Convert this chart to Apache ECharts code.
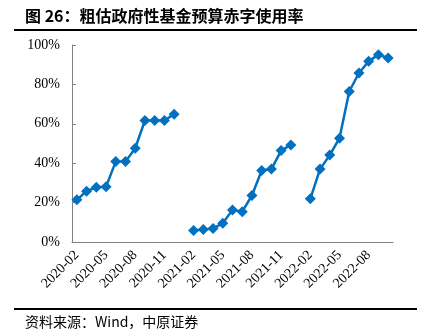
<!DOCTYPE html>
<html><head><meta charset="utf-8">
<script src="https://cdn.jsdelivr.net/npm/echarts@6/dist/echarts.min.js"></script>
<style>html,body{margin:0;padding:0;background:#fff}#c{width:433px;height:336px}</style>
</head><body><div id="c"></div>
<script>
const titleText = '图 26：粗估政府性基金预算赤字使用率';
const sourceText = '资料来源：Wind，中原证券';
const categories = [
 '2020-02','2020-03','2020-04','2020-05','2020-06','2020-07','2020-08','2020-09','2020-10','2020-11','2020-12',
 '2021-01','2021-02','2021-03','2021-04','2021-05','2021-06','2021-07','2021-08','2021-09','2021-10','2021-11','2021-12',
 '2022-01','2022-02','2022-03','2022-04','2022-05','2022-06','2022-07','2022-08','2022-09','2022-10'
];
const usageRate = [
 21.4,25.8,27.8,28.1,40.8,40.8,47.6,61.7,61.7,61.7,64.9,
 null,5.8,6.4,6.9,9.5,16.3,15.4,23.6,36.3,37.0,46.4,49.3,
 null,21.9,37.0,44.1,52.7,76.4,85.8,91.7,95.1,93.4
];
const yTicks = [0,20,40,60,80,100];

const chart = echarts.init(document.getElementById('c'));
chart.setOption({
  animation:false,
  grid:{left:72,right:40,top:45,bottom:94,containLabel:false},
  xAxis:{
    type:'category', data:categories, boundaryGap:true,
    axisLine:{lineStyle:{color:'#808080',width:1}},
    axisTick:{inside:true,length:4,interval:2,lineStyle:{color:'#808080'}},
    axisLabel:{interval:2,rotate:45,fontFamily:'Liberation Serif',fontSize:14,color:'#000',margin:11}
  },
  yAxis:{
    type:'value', min:0, max:100, interval:20,
    axisLine:{show:true,lineStyle:{color:'#808080',width:1}},
    axisTick:{show:true,inside:true,length:4,lineStyle:{color:'#808080'}},
    splitLine:{show:false},
    axisLabel:{formatter:v=>yTicks.includes(v)?v+'%':'',fontFamily:'Liberation Serif',fontSize:14,color:'#000',margin:12}
  },
  series:[{
    type:'line', data:usageRate, connectNulls:false,
    symbol:'diamond', symbolSize:11, showAllSymbol:true,
    lineStyle:{color:'#0070C0',width:2.5},
    itemStyle:{color:'#0070C0'}
  }],
  graphic:[
    {type:'text',left:25,top:8,style:{text:titleText,font:'bold 16px "Noto Sans CJK SC"',fill:'#000'}},
    {type:'rect',shape:{x:14,y:29,width:403,height:2},style:{fill:'#000'}},
    {type:'rect',shape:{x:14,y:308,width:403,height:2},style:{fill:'#000'}},
    {type:'text',left:25,top:315,style:{text:sourceText,font:'14px "Noto Sans CJK SC"',fill:'#000'}}
  ]
});
</script></body></html>
